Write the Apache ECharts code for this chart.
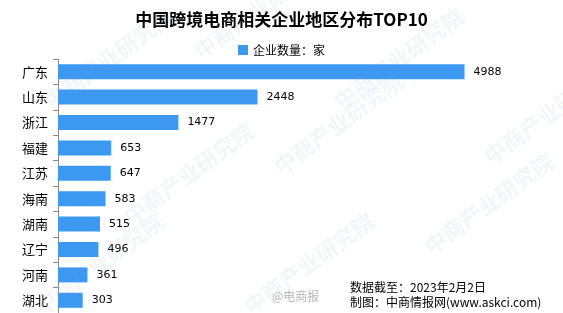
<!DOCTYPE html>
<html><head><meta charset="utf-8">
<script src="https://cdn.jsdelivr.net/npm/echarts@6/dist/echarts.min.js"></script>
<style>html,body{margin:0;padding:0;background:#fff}#c{width:563px;height:313px}</style>
</head><body><div id="c"></div>
<script>
const categories = ['广东','山东','浙江','福建','江苏','海南','湖南','辽宁','河南','湖北'];
const values = [4988,2448,1477,653,647,583,515,496,361,303];
const seriesName = '企业数量：家';
const chart = echarts.init(document.getElementById('c'));
const wm = [];
const wmPos = [[40,95],[190,45],[330,95],[480,150],[120,210],[270,160],[420,240],[30,300],[240,300],[560,40]];
wmPos.forEach(p=>wm.push({type:'text',x:p[0],y:p[1],rotation:Math.PI/5,z:100,silent:true,
  style:{text:'中商产业研究院',fill:'rgba(120,170,220,0.10)',font:'bold 22px "Noto Sans CJK SC"'}}));
chart.setOption({
  animation:false,
  title:{text:'中国跨境电商相关企业地区分布TOP10',left:'center',top:6,
    textStyle:{fontSize:17,fontWeight:'bold',color:'#000',fontFamily:'"Noto Sans CJK SC"'}},
  legend:{top:39,left:'center',itemWidth:10,itemHeight:10,itemGap:3,icon:'rect',
    textStyle:{fontSize:12,color:'#000',fontFamily:'"Noto Sans CJK SC"'},data:[seriesName]},
  grid:{left:58,top:59,width:489,height:258,containLabel:false},
  xAxis:{type:'value',min:0,max:6000,show:false},
  yAxis:{type:'category',data:categories,inverse:true,
    axisLine:{show:true,lineStyle:{color:'#888',width:1}},
    axisTick:{show:true,length:5,lineStyle:{color:'#888'}},
    axisLabel:{fontSize:13,color:'#000',margin:10,fontFamily:'"Noto Sans CJK SC"'}},
  series:[{name:seriesName,type:'bar',data:values,barWidth:15,
    itemStyle:{color:'#3d98f2'},
    label:{show:true,position:'right',distance:9,fontSize:11,color:'#000',fontFamily:'"DejaVu Sans"'}}],
  graphic:wm.concat([
    {type:'text',left:350,top:281,style:{text:'数据截至：2023年2月2日',fill:'#000',font:'12px "Noto Sans CJK SC"'}},
    {type:'text',left:350,top:296,style:{text:'制图：中商情报网(www.askci.com)',fill:'#000',font:'12px "Noto Sans CJK SC"'}},
    {type:'text',left:272,top:290,style:{text:'@电商报',fill:'rgba(150,150,150,0.7)',font:'12px "Noto Sans CJK SC"'}}
  ])
});
</script></body></html>
